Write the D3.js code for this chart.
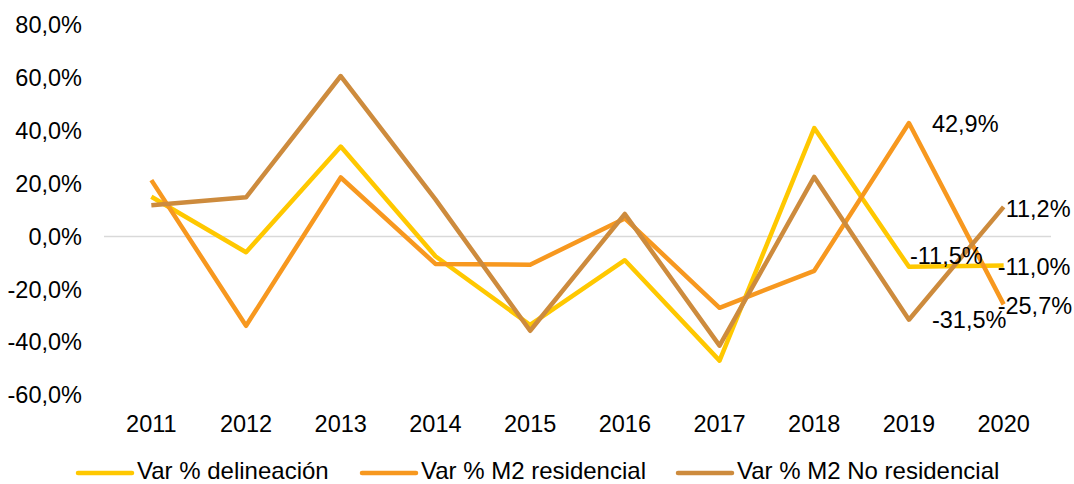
<!DOCTYPE html>
<html>
<head>
<meta charset="utf-8">
<script src="https://cdn.jsdelivr.net/npm/d3@7"></script>
<style>
  body { margin: 0; background: #fff; }
  text { font-family: "Liberation Sans", Arial, sans-serif; fill: #000; }
</style>
</head>
<body>
<div id="wrapper"></div>
<script>
const years = ["2011","2012","2013","2014","2015","2016","2017","2018","2019","2020"];
const delineacion = [15.0, -6.0, 34.0, -7.5, -33.5, -9.0, -47.0, 41.0, -11.5, -11.0];
const residencial = [21.3, -33.8, 22.3, -10.4, -10.7, 6.8, -27.0, -13.0, 42.9, -25.7];
const noResidencial = [11.8, 14.8, 60.7, 14.0, -35.7, 8.5, -41.3, 22.5, -31.5, 11.2];
const yTicks = [-60, -40, -20, 0, 20, 40, 60, 80];
const seriesNames = ["Var % delineación", "Var % M2 residencial", "Var % M2 No residencial"];
const seriesColors = ["#FFC800", "#F7981F", "#CD8B3D"];

function build() {
    var dimension = {
        width: 1074,
        height: 484,
        left: 104,
        right: 1051,
        top: 25,
        bottom: 395
    };

    const svg = d3.select("#wrapper")
        .append("svg")
        .attr("width", dimension.width)
        .attr("height", dimension.height);

    const x = d3.scaleBand()
        .domain(years)
        .range([dimension.left, dimension.right]);
    const y = d3.scaleLinear()
        .domain([-60, 80])
        .range([dimension.bottom, dimension.top]);

    const locale = d3.formatLocale({decimal: ",", thousands: ".", grouping: [3], currency: ["", "€"], minus: "-"});
    const fmt = locale.format(".1f");

    // zero line
    svg.append("line")
        .attr("x1", dimension.left)
        .attr("x2", dimension.right)
        .attr("y1", y(0))
        .attr("y2", y(0))
        .attr("stroke", "#d9d9d9")
        .attr("stroke-width", 1.5);

    // y tick labels
    svg.append("g")
        .selectAll("text")
        .data(yTicks)
        .enter()
        .append("text")
        .attr("x", 82)
        .attr("y", d => y(d))
        .attr("dy", "0.35em")
        .attr("text-anchor", "end")
        .style("font-size", "23.5px")
        .text(d => fmt(d) + "%");

    // x labels
    svg.append("g")
        .selectAll("text")
        .data(years)
        .enter()
        .append("text")
        .attr("x", d => x(d) + x.bandwidth() / 2)
        .attr("y", 432)
        .attr("text-anchor", "middle")
        .style("font-size", "23.5px")
        .text(d => d);

    const allSeries = [delineacion, residencial, noResidencial];
    const line = d3.line()
        .x((d, i) => x(years[i]) + x.bandwidth() / 2)
        .y(d => y(d));

    svg.append("g")
        .selectAll("path")
        .data(allSeries)
        .enter()
        .append("path")
        .attr("d", d => line(d))
        .attr("fill", "none")
        .attr("stroke", (d, i) => seriesColors[i])
        .attr("stroke-width", 4.5)
        .attr("stroke-linejoin", "round");

    // data labels on the last two years
    var labels = [
        {s: 1, i: 8, dx: 23, dy: 1},
        {s: 2, i: 9, dx: 2, dy: 2},
        {s: 0, i: 8, dx: 1, dy: -11},
        {s: 0, i: 9, dx: -6, dy: 1},
        {s: 1, i: 9, dx: -6, dy: 1},
        {s: 2, i: 8, dx: 23, dy: 0}
    ];
    svg.append("g")
        .selectAll("text")
        .data(labels)
        .enter()
        .append("text")
        .attr("x", d => x(years[d.i]) + x.bandwidth() / 2 + d.dx)
        .attr("y", d => y(allSeries[d.s][d.i]) + d.dy)
        .attr("dy", "0.35em")
        .style("font-size", "23.5px")
        .text(d => fmt(allSeries[d.s][d.i]) + "%");

    // legend
    var legendX = [78, 362, 678];
    const legend = svg.append("g")
        .selectAll("g")
        .data(seriesNames)
        .enter()
        .append("g")
        .attr("transform", (d, i) => `translate(${legendX[i]}, 473)`);
    legend.append("line")
        .attr("x1", 0)
        .attr("x2", 54)
        .attr("stroke", (d, i) => seriesColors[i])
        .attr("stroke-width", 4.5)
        .attr("stroke-linecap", "round");
    legend.append("text")
        .attr("x", 59)
        .attr("y", 6)
        .style("font-size", "24px")
        .text(d => d);
}

build();
</script>
</body>
</html>
